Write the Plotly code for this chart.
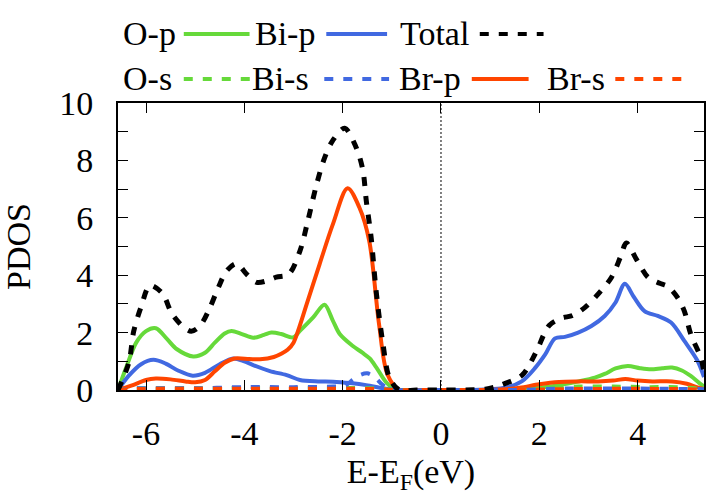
import plotly.graph_objects as go

# ---------------- data ----------------
total_e = [-6.57, -6.35, -6.25, -6.1, -5.92, -5.67, -5.47, -5.24, -5.08, -4.9, -4.7, -4.53, -4.36, -4.16,
           -3.95, -3.75, -3.55, -3.35, -3.1, -2.87, -2.71, -2.54, -2.37, -2.2, -1.96, -1.73, -1.59, -1.52,
           -1.42, -1.32, -1.18, -1.05, -0.85, -0.5, 0.0, 0.5, 0.9, 1.1, 1.31, 1.65, 1.92, 2.2, 2.45, 2.68,
           2.93, 3.2, 3.47, 3.65, 3.77, 3.97, 4.21, 4.45, 4.62, 4.82, 4.95, 5.08, 5.29, 5.35]
total_v = [0.0, 0.95, 2.05, 2.9, 3.64, 3.37, 2.65, 2.2, 2.05, 2.24, 2.87, 3.57, 4.15, 4.4,
           4.03, 3.75, 3.8, 3.93, 4.03, 4.84, 5.88, 7.1, 8.08, 8.7, 9.12, 8.47, 7.67, 6.6,
           5.3, 3.46, 1.6, 0.43, 0.0, 0.0, 0.0, 0.0, 0.03, 0.1, 0.23, 0.52, 1.27, 2.25, 2.5, 2.6,
           2.88, 3.35, 3.93, 4.63, 5.12, 4.57, 3.93, 3.72, 3.6, 3.2, 2.75, 1.95, 1.1, 0.6]

op_e = [-6.57, -6.4, -6.2, -6.0, -5.8, -5.57, -5.37, -5.04, -4.8, -4.6, -4.4, -4.26, -4.05, -3.82, -3.6,
        -3.45, -3.25, -3.01, -2.87, -2.6, -2.37, -2.2, -2.06, -1.8, -1.6, -1.45, -1.32, -1.12, -0.95,
        -0.7, 0.0, 0.8, 1.2, 1.6, 2.0, 2.4, 2.8, 3.13, 3.33, 3.55, 3.8, 4.05, 4.27, 4.5, 4.7, 4.9,
        5.08, 5.25, 5.35]
op_v = [0.0, 0.8, 1.65, 2.05, 2.15, 1.77, 1.42, 1.17, 1.3, 1.65, 1.97, 2.06, 1.95, 1.82, 1.92,
        2.0, 1.95, 1.83, 2.06, 2.53, 2.97, 2.42, 1.95, 1.54, 1.3, 1.1, 0.8, 0.28, 0.03,
        0.0, 0.0, 0.0, 0.01, 0.03, 0.08, 0.17, 0.3, 0.43, 0.56, 0.75, 0.84, 0.76, 0.72, 0.76, 0.78, 0.68,
        0.49, 0.25, 0.12]

bip_e = [-6.57, -6.35, -6.1, -5.85, -5.6, -5.35, -5.05, -4.8, -4.5, -4.23, -4.0, -3.82, -3.48, -3.14,
         -2.87, -2.5, -2.2, -1.85, -1.52, -1.18, -0.9, -0.5, 0.0, 0.5, 1.0, 1.31, 1.65, 1.92, 2.12,
         2.32, 2.52, 2.79, 3.06, 3.33, 3.55, 3.74, 3.92, 4.14, 4.41, 4.68, 4.95, 5.22, 5.35]
bip_v = [0.0, 0.5, 0.9, 1.05, 0.92, 0.68, 0.5, 0.6, 0.9, 1.1, 1.0, 0.87, 0.66, 0.52,
         0.35, 0.3, 0.29, 0.24, 0.17, 0.06, 0.0, 0.0, 0.0, 0.0, 0.03, 0.08, 0.31, 0.78, 1.24,
         1.8, 1.85, 2.0, 2.23, 2.58, 3.05, 3.7, 3.25, 2.75, 2.58, 2.35, 1.71, 1.01, 0.45]

brp_e = [-6.57, -6.3, -6.0, -5.8, -5.5, -5.2, -5.0, -4.8, -4.6, -4.4, -4.2, -3.9, -3.68, -3.4, -3.24,
         -3.12, -3.0, -2.88, -2.74, -2.47, -2.2, -1.9, -1.66, -1.46, -1.26, -1.09, -0.85, -0.5, 0.0,
         0.5, 1.2, 1.6, 2.0, 2.4, 2.8, 3.2, 3.5, 3.75, 4.0, 4.3, 4.7, 5.0, 5.2, 5.35]
brp_v = [0.0, 0.15, 0.35, 0.4, 0.37, 0.3, 0.27, 0.35, 0.65, 0.95, 1.1, 1.08, 1.07, 1.15, 1.27,
         1.4, 1.65, 2.2, 2.95, 4.38, 5.77, 7.03, 6.36, 5.2, 2.29, 0.55, 0.0, 0.0, 0.0,
         0.0, 0.02, 0.08, 0.2, 0.28, 0.3, 0.3, 0.33, 0.38, 0.33, 0.3, 0.3, 0.22, 0.1, 0.03]

os_e = [-6.57, -6.3, -5.0, -3.0, -1.3, -1.0, 0.0, 1.5, 2.2, 2.8, 3.5, 4.2, 4.8, 5.2, 5.35]
os_v = [0.0, 0.05, 0.06, 0.07, 0.05, 0.0, 0.0, 0.0, 0.05, 0.12, 0.12, 0.1, 0.1, 0.05, 0.02]

bis_e = [-6.57, -6.3, -5.0, -4.0, -3.0, -2.2, -1.95, -1.8, -1.65, -1.5, -1.35, -1.2, -1.05, -0.9,
         0.0, 1.5, 2.5, 4.0, 5.35]
bis_v = [0.0, 0.05, 0.06, 0.1, 0.1, 0.12, 0.15, 0.35, 0.52, 0.58, 0.45, 0.2, 0.05, 0.0,
         0.0, 0.0, 0.05, 0.05, 0.03]

brs_e = [-6.57, -6.3, -4.0, -1.3, -1.0, 0.0, 1.5, 2.5, 4.0, 5.0, 5.35]
brs_v = [0.0, 0.03, 0.04, 0.03, 0.0, 0.0, 0.0, 0.03, 0.04, 0.03, 0.01]

x_ticks = [-6, -4, -2, 0, 2, 4]
x_ticktext = ["-6", "-4", "-2", "0", "2", "4"]
y_major_step = 2
y_minor_step = 1

GREEN = "#66D93A"
BLUE = "#4169E1"
RED = "#FF4500"
BLACK = "#000000"
DASH = "9px,10px"

# name, x, y, color, dash, width
series = [
    ("O-p", op_e, op_v, GREEN, "solid", 4),
    ("Bi-p", bip_e, bip_v, BLUE, "solid", 4),
    ("Br-p", brp_e, brp_v, RED, "solid", 4),
    ("O-s", os_e, os_v, GREEN, DASH, 4),
    ("Bi-s", bis_e, bis_v, BLUE, DASH, 4),
    ("Br-s", brs_e, brs_v, RED, DASH, 4),
    ("Total", total_e, total_v, BLACK, DASH, 5),
]

fig = go.Figure()
for name, xs, ys, col, dash, w in series:
    fig.add_trace(go.Scatter(x=xs, y=ys, mode="lines", name=name,
                             line=dict(color=col, width=w, dash=dash, shape="spline", smoothing=0.9)))

W, H = 707, 495
ML, MR, MT, MB = 118, 1, 103, 105
PW, PH = W - ML - MR, H - MT - MB

fig.update_layout(
    width=W, height=H,
    margin=dict(l=ML, r=MR, t=MT, b=MB),
    plot_bgcolor="white", paper_bgcolor="white",
    font=dict(family="Liberation Serif", size=34, color="black"),
    showlegend=False,
)
axis_common = dict(showline=True, linewidth=2, linecolor="black", mirror="ticks",
                   ticks="inside", ticklen=10, tickwidth=1, tickcolor="black",
                   showgrid=False, zeroline=False)
fig.update_xaxes(range=[-6.57, 5.35], tickmode="array", tickvals=x_ticks, ticktext=x_ticktext,
                 ticklabelstandoff=12,
                 title=dict(text="E-E<sub>F</sub>(eV)", standoff=14, font=dict(size=34)),
                 **axis_common)
fig.update_yaxes(range=[0, 10], tickmode="linear", tick0=0, dtick=y_major_step,
                 minor=dict(dtick=y_minor_step, ticks="inside", ticklen=10, tickwidth=1,
                            tickcolor="black", showgrid=False),
                 ticklabelstandoff=16,
                 title=dict(text="PDOS", standoff=22, font=dict(size=34)),
                 **axis_common)

fig.add_vline(x=0, line=dict(color="black", width=1, dash="2px,2px"))


def px(xp):
    return (xp - ML) / PW


def py(yp):
    return (H - MB - yp) / PH


# gnuplot-style key: text, then line sample
legend_items = [
    ("O-p", 178, 184, 250, 34, GREEN, "solid"),
    ("Bi-p", 318, 327, 388, 34, BLUE, "solid"),
    ("Total", 472, 481, 545, 34, BLACK, DASH),
    ("O-s", 174, 184, 252, 79, GREEN, DASH),
    ("Bi-s", 312, 325, 390, 79, BLUE, DASH),
    ("Br-p", 464, 473, 530, 79, RED, "solid"),
    ("Br-s", 609, 617, 685, 79, RED, DASH),
]
for name, tx, x0, x1, yy, col, dash in legend_items:
    fig.add_annotation(text=name, x=px(tx), y=py(yy - 1), xref="paper", yref="paper",
                       xanchor="right", yanchor="middle", showarrow=False,
                       font=dict(size=34, family="Liberation Serif", color="black"))
    fig.add_shape(type="line", xref="paper", yref="paper", x0=px(x0), x1=px(x1),
                  y0=py(yy), y1=py(yy), line=dict(color=col, width=4, dash=dash))

fig.write_html("out.html")
